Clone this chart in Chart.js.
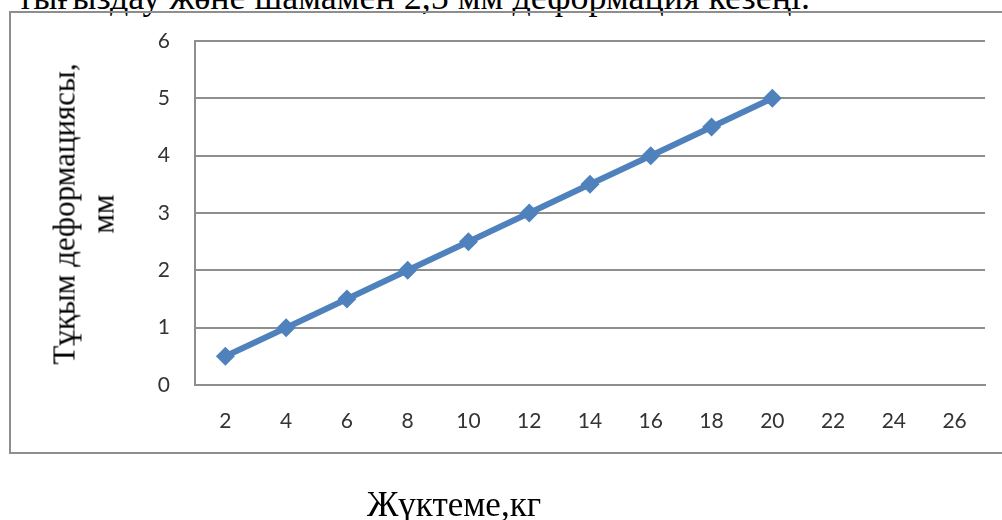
<!DOCTYPE html>
<html>
<head>
<meta charset="utf-8">
<script src="https://cdn.jsdelivr.net/npm/chart.js@4"></script>
<style>
  html, body { margin: 0; padding: 0; background: #fff; }
  body { width: 1002px; height: 520px; position: relative; overflow: hidden; }
  #frame { position: absolute; left: 9px; top: 11px; width: 1100px; height: 443px;
           border: 2px solid #8e8e8e; box-sizing: border-box; }
  canvas { position: absolute; left: 0; top: 0; }
  .serif { position: absolute; font-family: "Liberation Serif", "DejaVu Serif", serif;
           color: #000; white-space: nowrap; line-height: 1; }
  #lead { right: 192px; top: -21px; font-size: 36px; }
  #xTitle { left: 454px; top: 487px; font-size: 35px; transform: translateX(-50%); }
  .ytitle { font-size: 31px; transform: translate(-50%, -50%) rotate(-90deg); }
</style>
</head>
<body>
<div class="serif" id="lead">тығыздау және шамамен 2,5 мм деформация кезеңі.</div>
<div id="frame"></div>
<canvas id="c" width="1002" height="520"></canvas>
<div class="serif ytitle" style="left:64px; top:214px;">Тұқым деформациясы,</div>
<div class="serif ytitle" style="left:103px; top:214px;">мм</div>
<div class="serif" id="xTitle">Жүктеме,кг</div>
<script>
// Load on the seed (kg) and the resulting deformation (mm)
const loadLabels = ['2', '4', '6', '8', '10', '12', '14', '16', '18', '20', '22', '24', '26'];
const deformation = [0.5, 1, 1.5, 2, 2.5, 3, 3.5, 4, 4.5, 5];
const yTicks = [0, 1, 2, 3, 4, 5, 6];

const lineBlue = '#4f81bd';
const gridGray = '#8e8e8e';
const tickFont = { family: 'Lato, "Open Sans", sans-serif', size: 21 };

new Chart(document.getElementById('c'), {
  type: 'line',
  data: {
    labels: loadLabels,
    datasets: [{
      data: deformation,
      borderColor: lineBlue,
      backgroundColor: lineBlue,
      borderWidth: 6,
      pointStyle: 'rectRot',
      pointRadius: 9.5,
      pointBorderWidth: 0,
      tension: 0
    }]
  },
  options: {
    responsive: false,
    animation: false,
    layout: { padding: { top: 41, right: 17, left: 0, bottom: 0 } },
    plugins: { legend: { display: false }, tooltip: { enabled: false } },
    scales: {
      x: {
        type: 'category',
        offset: true,
        grid: { display: false, drawTicks: false },
        border: { display: true, color: gridGray, width: 2 },
        ticks: { color: '#333', font: tickFont, padding: 24, maxRotation: 0, autoSkip: false },
        afterFit: s => { s.height = 135; }
      },
      y: {
        min: yTicks[0],
        max: yTicks[yTicks.length - 1],
        afterBuildTicks: s => { s.ticks = yTicks.map(v => ({ value: v })); },
        grid: { color: gridGray, lineWidth: 2, drawTicks: false },
        border: { display: true, color: gridGray, width: 2 },
        ticks: { color: '#333', font: tickFont, padding: 25 },
        afterFit: s => { s.width = 195; }
      }
    }
  }
});
</script>
</body>
</html>
